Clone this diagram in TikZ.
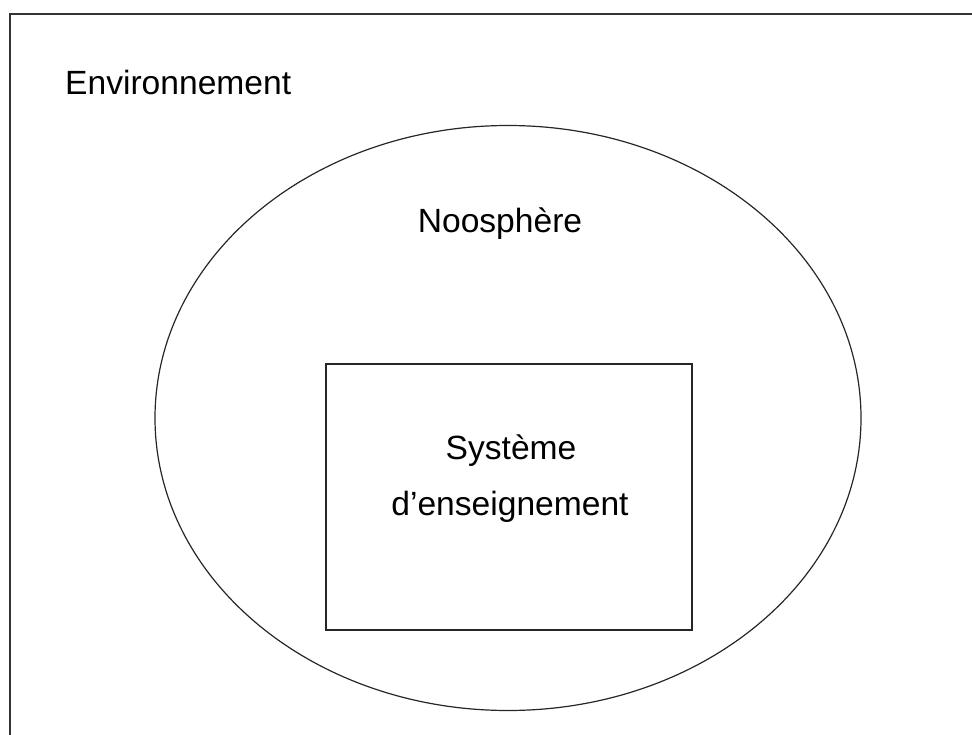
\documentclass[tikz,border=0pt]{standalone}
\usepackage{fontspec}
\setmainfont{Liberation Sans}
\usetikzlibrary{shapes.geometric}
\begin{document}
\begin{tikzpicture}[x=1pt,y=-1pt,
  lbl/.style={font=\fontsize{33.6}{40}\selectfont, inner sep=0pt, anchor=base},
  shapeline/.style={draw=black!85, line width=1.2pt}]
\useasboundingbox (0,0) rectangle (972,735);
% outer environment frame (cropped at right and bottom)
\coordinate (frTR) at (980,14);
\coordinate (frTL) at (10,14);
\coordinate (frBL) at (10,745);
\draw[draw=black!80, line width=1.8pt] (frTR) -- (frTL) -- (frBL);
% noosphere ellipse
\node[shapeline, ellipse, minimum width=706pt, minimum height=585pt, inner sep=0pt] (noo) at (508,418) {};
% teaching system box
\node[shapeline, rectangle, minimum width=366pt, minimum height=266pt, inner sep=0pt] (sys) at (509,497) {};
% labels
\node[lbl, anchor=base west] (env) at (65,95) {Environnement};
\node[lbl] (nool) at (500,233) {Noosphère};
\node[lbl] (sys1) at (511,459) {Système};
\node[lbl] (sys2) at (510,515) {d’enseignement};
\end{tikzpicture}
\end{document}
